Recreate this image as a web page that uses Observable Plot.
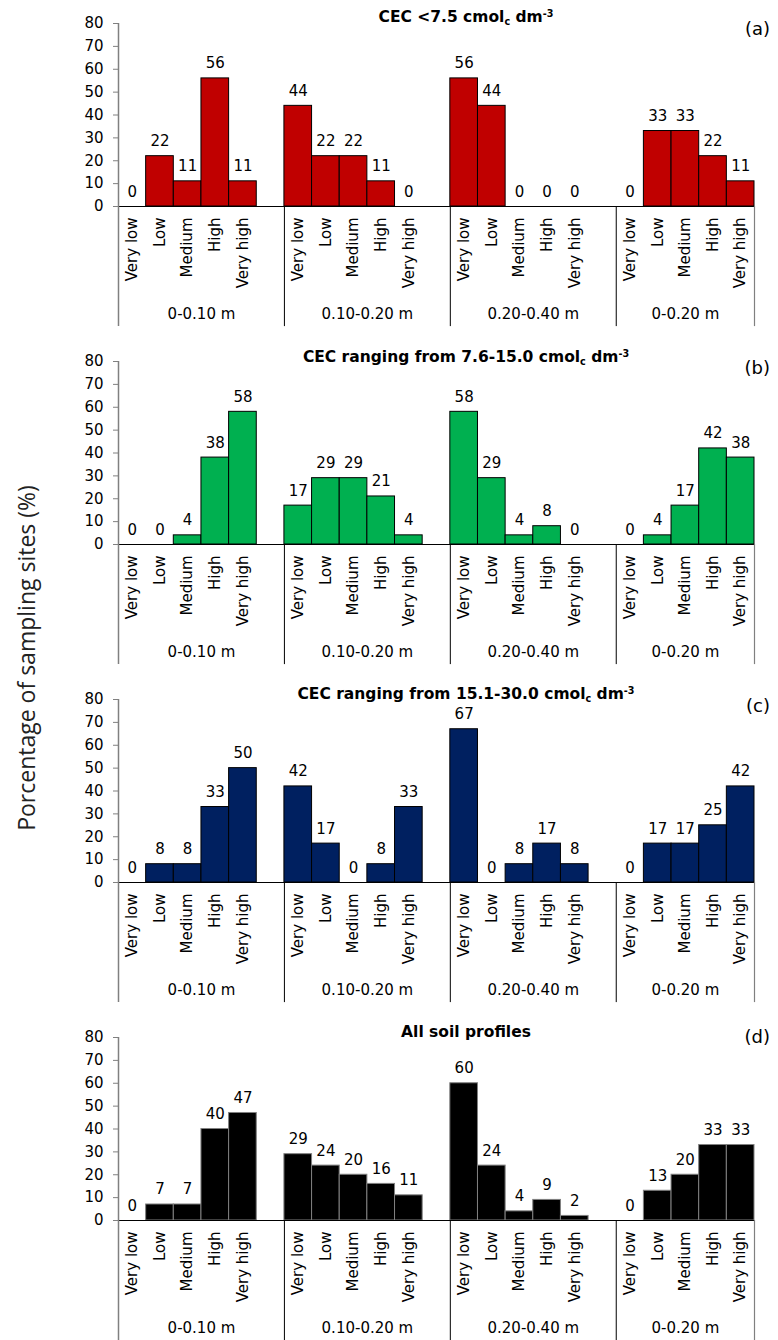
<!DOCTYPE html>
<html>
<head>
<meta charset="utf-8">
<script src="https://cdn.jsdelivr.net/npm/d3@7"></script>
<script src="https://cdn.jsdelivr.net/npm/@observablehq/plot@0.6"></script>
<style>
  html, body { margin: 0; padding: 0; background: #fff; overflow: hidden; }
  #wrap { position: relative; width: 778px; height: 1340px; font-family: "DejaVu Sans", sans-serif; color: #000; }
  .panel { position: relative; width: 778px; height: 338px; }
  .panel svg { display: block; }
  .ptitle { position: absolute; transform: translate(-50%, -50%); font-weight: bold; font-size: 15.5px; white-space: nowrap; line-height: 1; z-index: 5; }
  .ptitle .sub { font-size: 0.62em; position: relative; top: 0.35em; }
  .ptitle .sup { font-size: 0.62em; position: relative; top: -0.55em; }
  .plabel { position: absolute; transform: translateY(-50%); right: 8px; font-size: 18px; line-height: 1; z-index: 5; }
  #ytitle { position: absolute; left: 26px; top: 658px; transform: translate(-50%, -50%) rotate(-90deg); font-family: "Open Sans", sans-serif; font-size: 23px; white-space: nowrap; color: #222; z-index: 10; }
</style>
</head>
<body>
<div id="wrap"><div id="ytitle">Porcentage of sampling sites (%)</div></div>
<script>
// ---- data ----
const categories = ["Very low", "Low", "Medium", "High", "Very high"];
const depths = ["0-0.10 m", "0.10-0.20 m", "0.20-0.40 m", "0-0.20 m"];
const yTicks = [0, 10, 20, 30, 40, 50, 60, 70, 80];

const titleMain = ["CEC <7.5 cmol", "CEC ranging from 7.6-15.0 cmol", "CEC ranging from 15.1-30.0 cmol", "All soil profiles"];
const titleUnit = [true, true, true, false];
const panelLetters = ["(a)", "(b)", "(c)", "(d)"];

// values per depth group, in category order
const valuesA = [[0, 22, 11, 56, 11], [44, 22, 22, 11, 0], [56, 44, 0, 0, 0], [0, 33, 33, 22, 11]];
const valuesB = [[0, 0, 4, 38, 58], [17, 29, 29, 21, 4], [58, 29, 4, 8, 0], [0, 4, 17, 42, 38]];
const valuesC = [[0, 8, 8, 33, 50], [42, 17, 0, 8, 33], [67, 0, 8, 17, 8], [0, 17, 17, 25, 42]];
const valuesD = [[0, 7, 7, 40, 47], [29, 24, 20, 16, 11], [60, 24, 4, 9, 2], [0, 13, 20, 33, 33]];
const panelValues = [valuesA, valuesB, valuesC, valuesD];

const fills = ["#C00000", "#00B050", "#002060", "#000000"];
const strokes = ["#000000", "#000000", "#000000", "#808080"];

// ---- layout ----
const W = 778, H = 338;
const titleY = [18, 20, 19, 19];
const letterY = [29, 30, 30, 23];
const sepBottom = -52.5; // how far separator lines reach below the baseline (y units)

const step = categories.length + 1;              // 5 bars + 1 gap slot
const nSlots = depths.length * step - 1;        // 23
const bounds = depths.map((_, g) => g * step).concat([nSlots]);

const wrap = document.getElementById("wrap");

panelValues.forEach((vals, p) => {
  const rows = [];
  vals.forEach((arr, g) => arr.forEach((v, c) => {
    const s = g * step + c;
    rows.push({x1: s, x2: s + 1, xc: s + 0.5, value: v, category: categories[c]});
  }));
  const groups = depths.map((d, g) => ({depth: d, center: (bounds[g] + bounds[g + 1]) / 2}));
  const inner = bounds.slice(1, -1);

  const chart = Plot.plot({
    width: W, height: H,
    marginTop: 23, marginBottom: 132, marginLeft: 118, marginRight: 24,
    x: {domain: [0, nSlots], axis: null},
    y: {domain: [0, 80], axis: null, label: null},
    style: {fontFamily: "DejaVu Sans, sans-serif", fontSize: "15px", color: "#000", background: "#fff", overflow: "visible"},
    marks: [
      Plot.rectY(rows.filter(d => d.value > 0), {x1: "x1", x2: "x2", y: "value", fill: fills[p], stroke: strokes[p], strokeWidth: 1}),
      Plot.text(rows, {x: "xc", y: "value", text: d => d3.format(".0f")(d.value), lineAnchor: "bottom", dy: -10, fontSize: 15, fill: "#000"}),
      Plot.text(rows, {x: "xc", text: "category", frameAnchor: "bottom", rotate: -90, textAnchor: "end", lineAnchor: "middle", dy: 11, fontSize: 15, fill: "#000"}),
      Plot.text(groups, {x: "center", text: "depth", frameAnchor: "bottom", lineAnchor: "middle", dy: 108, fontSize: 15, fill: "#000"}),
      Plot.ruleY([0], {stroke: "#000", strokeWidth: 1.2}),
      Plot.ruleX([0], {y1: 80, y2: sepBottom, stroke: "#808080", strokeWidth: 1.5}),
      Plot.ruleX([nSlots], {y1: 0, y2: sepBottom, stroke: "#808080", strokeWidth: 1.2}),
      Plot.ruleX(inner, {y1: 0, y2: sepBottom, stroke: "#000", strokeWidth: 1}),
      Plot.axisY(yTicks, {tickSize: 5, tickPadding: 10, stroke: "#808080", fontSize: 15, fill: "#000", label: null})
    ]
  });

  const panel = document.createElement("div");
  panel.className = "panel";
  panel.appendChild(chart);

  const t = document.createElement("div");
  t.className = "ptitle";
  t.style.left = "466px";
  t.style.top = titleY[p] + "px";
  t.appendChild(document.createTextNode(titleMain[p]));
  if (titleUnit[p]) {
    const sub = document.createElement("span"); sub.className = "sub"; sub.textContent = "c"; t.appendChild(sub);
    t.appendChild(document.createTextNode(" dm"));
    const sup = document.createElement("span"); sup.className = "sup"; sup.textContent = "-3"; t.appendChild(sup);
  }
  panel.appendChild(t);

  const l = document.createElement("div");
  l.className = "plabel";
  l.style.top = letterY[p] + "px";
  l.textContent = panelLetters[p];
  panel.appendChild(l);

  wrap.appendChild(panel);
});
</script>
</body>
</html>
